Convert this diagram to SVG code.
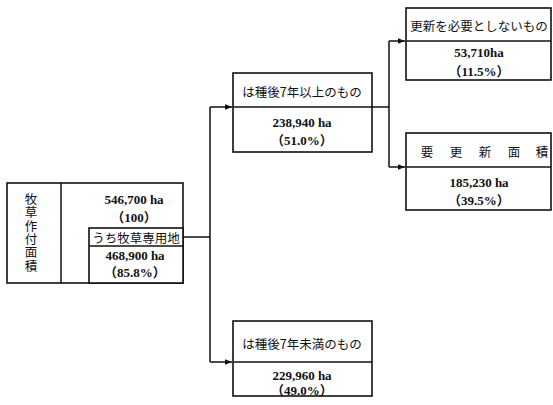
<svg xmlns="http://www.w3.org/2000/svg" width="553" height="405" viewBox="0 0 553 405">
<style>
.box{fill:#fff;stroke:#111;stroke-width:1.6}
.ln{fill:none;stroke:#111;stroke-width:1.5}
.jp{font-family:"Noto Sans CJK JP",sans-serif;font-size:12.5px;fill:#111;text-anchor:middle;dominant-baseline:central}
.vt{font-family:"Noto Sans CJK JP",sans-serif;font-size:12.5px;fill:#111;text-anchor:middle;writing-mode:vertical-rl;letter-spacing:0.8px}
.num{font-family:"Liberation Serif","Noto Sans CJK JP",serif;font-size:13px;font-weight:bold;fill:#111;text-anchor:middle;dominant-baseline:central}
</style>
<defs>
<marker id="ah" viewBox="0 0 10 10" refX="10" refY="5" markerWidth="7" markerHeight="7" markerUnits="userSpaceOnUse" orient="auto">
<path d="M0,1 L10,5 L0,9 z" fill="#111"/>
</marker>
</defs>
<g id="connectors">
<path class="ln" d="M183,237 H210 M210,107 V362"/>
<path class="ln" d="M210,107 H232" marker-end="url(#ah)"/>
<path class="ln" d="M210,362 H232" marker-end="url(#ah)"/>
<path class="ln" d="M372,107 H389 M389,41 V167"/>
<path class="ln" d="M389,41 H405" marker-end="url(#ah)"/>
<path class="ln" d="M389,167 H405" marker-end="url(#ah)"/>
</g>
<g id="total">
<rect class="box" x="7" y="183" width="176" height="100"/>
<line class="ln" x1="61" y1="183" x2="61" y2="283"/>
<text class="vt" x="31" y="233">牧草作付面積</text>
<text class="num" x="134" y="199">546,700 ha</text>
<text class="num" x="134" y="217">（100）</text>
</g>
<g id="pasture">
<rect class="box" x="89" y="228" width="94" height="55"/>
<line class="ln" x1="89" y1="246" x2="183" y2="246"/>
<text class="jp" x="136" y="237">うち牧草専用地</text>
<text class="num" x="135" y="255">468,900 ha</text>
<text class="num" x="135" y="272">（85.8%）</text>
</g>
<g id="over7">
<rect class="box" x="233" y="73" width="139" height="79"/>
<line class="ln" x1="233" y1="107" x2="372" y2="107"/>
<text class="jp" x="302" y="91">は種後7年以上のもの</text>
<text class="num" x="302" y="122">238,940 ha</text>
<text class="num" x="302" y="140">（51.0%）</text>
</g>
<g id="noneed">
<rect class="box" x="406" y="8" width="145" height="72"/>
<line class="ln" x1="406" y1="41" x2="551" y2="41"/>
<text class="jp" x="479" y="25">更新を必要としないもの</text>
<text class="num" x="479" y="52">53,710ha</text>
<text class="num" x="479" y="71">（11.5%）</text>
</g>
<g id="renew">
<rect class="box" x="406" y="133" width="145" height="77"/>
<line class="ln" x1="406" y1="167" x2="551" y2="167"/>
<text class="jp" x="427 456 485 514 542" y="151">要更新面積</text>
<text class="num" x="479" y="182">185,230 ha</text>
<text class="num" x="479" y="200">（39.5%）</text>
</g>
<g id="under7">
<rect class="box" x="233" y="321" width="139" height="75"/>
<line class="ln" x1="233" y1="362" x2="372" y2="362"/>
<text class="jp" x="302" y="343">は種後7年未満のもの</text>
<text class="num" x="302" y="375">229,960 ha</text>
<text class="num" x="302" y="390">（49.0%）</text>
</g>
</svg>
